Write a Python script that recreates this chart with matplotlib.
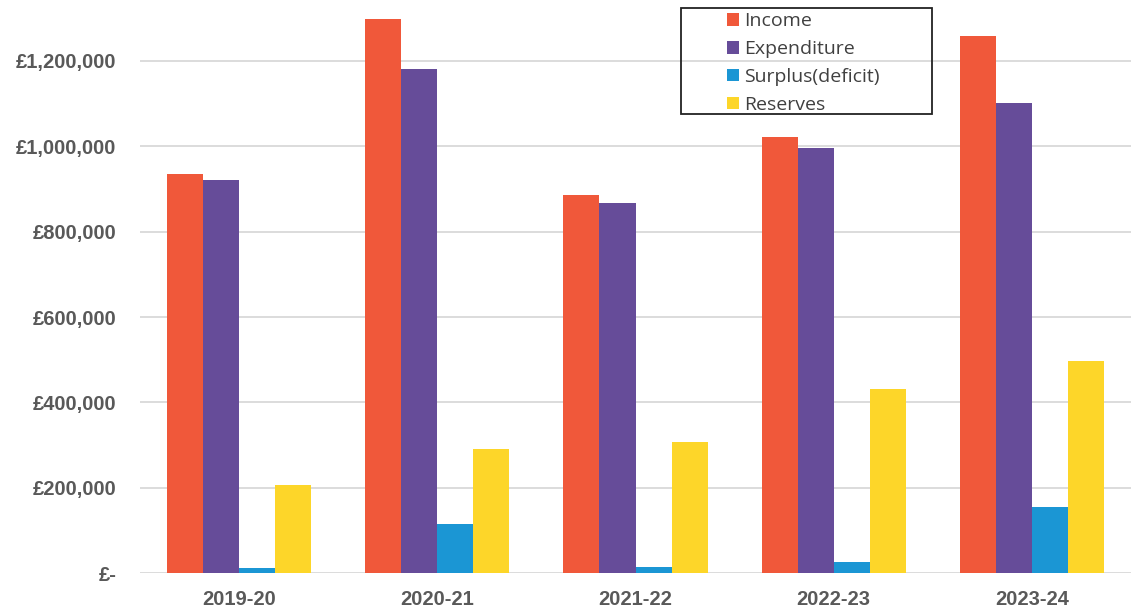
import numpy as np
import matplotlib
matplotlib.use("Agg")
import matplotlib.pyplot as plt
from matplotlib.patches import Rectangle
from matplotlib.ticker import FuncFormatter

years = ['2019-20', '2020-21', '2021-22', '2022-23', '2023-24']
income = [935000, 1298000, 885000, 1022000, 1259000]
expenditure = [922000, 1181000, 868000, 995000, 1102000]
surplus = [13000, 116000, 15500, 26500, 156000]
reserves = [207000, 291000, 308000, 431000, 498000]

series = ['Income', 'Expenditure', 'Surplus(deficit)', 'Reserves']
colors = ['#F0583A', '#664C99', '#1B96D4', '#FDD629']
yticks = [0, 200000, 400000, 600000, 800000, 1000000, 1200000]

plt.rcParams['font.family'] = ['Liberation Sans', 'DejaVu Sans']

fig = plt.figure(figsize=(11.33, 6.12), dpi=100)
ax = fig.add_axes([140/1133, (612-573.3)/612, 991/1133, 573.3/612])

x = np.arange(len(years))
w = 0.182
data = [income, expenditure, surplus, reserves]
for i, (vals, c, name) in enumerate(zip(data, colors, series)):
    ax.bar(x + (i - 1.5)*w, vals, w, color=c, label=name, zorder=3)

ax.set_xlim(-0.5, 4.5)
ax.set_ylim(0, 1342500)
ax.set_yticks(yticks)
ax.yaxis.set_major_formatter(FuncFormatter(lambda v, p: '£-' if v == 0 else '£{:,.0f}'.format(v)))
ax.set_xticks(x)
ax.set_xticklabels(years)
for lab in ax.get_xticklabels() + ax.get_yticklabels():
    lab.set_fontweight('bold')
    lab.set_color('#595959')
    lab.set_fontsize(14.5)
ax.tick_params(axis='y', length=0, pad=17)
ax.tick_params(axis='x', length=0, pad=12)
ax.grid(axis='y', color='#d9d9d9', lw=1.3, zorder=0)
for s in ax.spines.values():
    s.set_visible(False)

leg = ax.legend(loc='upper left', bbox_to_anchor=(727/1133, 1 - 12.5/612),
                bbox_transform=fig.transFigure, frameon=False,
                prop={'family': 'Open Sans', 'size': 14},
                handlelength=0.62, handleheight=0.62, handletextpad=0.28,
                labelspacing=0.5, borderpad=0, borderaxespad=0)
for t in leg.get_texts():
    t.set_color('#404040')
fig.patches.append(Rectangle((681/1133, 1 - 114/612), 251/1133, 106/612,
                             transform=fig.transFigure, fill=False,
                             edgecolor='#222222', lw=1.3))

fig.savefig('out.png', dpi=100)
